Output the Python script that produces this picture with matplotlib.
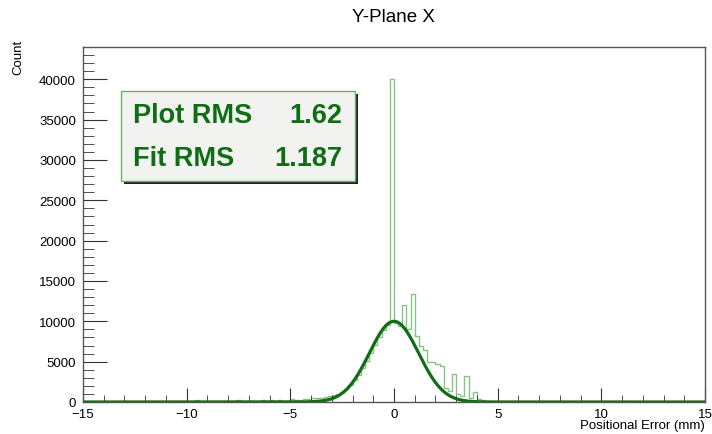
import numpy as np
import matplotlib
matplotlib.use("Agg")
import matplotlib.pyplot as plt
from matplotlib.patches import Rectangle
from matplotlib.ticker import MultipleLocator

plt.rcParams["font.family"] = ["Liberation Sans", "DejaVu Sans"]

# histogram binning: 150 bins of 0.2 mm over [-15, 15]
x_lo, x_hi, n_bins = -15.0, 15.0, 150

# counts for the bins from -5.0 mm to 5.0 mm
core_start = -5.0
core_counts = [
    350, 200, 300, 400, 350, 550, 450, 500, 600, 700,
    850, 1050, 1300, 1650, 2100, 2700, 3400, 4200, 5100, 6100,
    7100, 8000, 8900, 9500, 40000, 9800, 9400, 12000, 9000, 13400,
    8200, 7000, 6400, 5000, 4900, 4700, 4500, 1700, 1400, 3500,
    1000, 800, 3250, 500, 1300, 400, 200, 100, 50, 0,
]

# isolated entries in the far tails (bin lower edge, count)
tail_edges = [-9.6, -7.6, -7.0, -6.4, -6.0, -5.6, -5.2]
tail_counts = [250, 200, 150, 200, 200, 250, 100]

# gaussian fit
fit_amp = 10000.0
fit_mean = 0.0
fit_sigma = 1.187
plot_rms = 1.62

edges = np.linspace(x_lo, x_hi, n_bins + 1)
width = (x_hi - x_lo) / n_bins
counts = np.zeros(n_bins)
i0 = int(round((core_start - x_lo) / width))
counts[i0:i0 + len(core_counts)] = core_counts
for e, c in zip(tail_edges, tail_counts):
    counts[int(round((e - x_lo) / width))] = c

fig = plt.figure(figsize=(7.12, 4.35), dpi=100)
ax = fig.add_axes([83 / 712, 1 - 403 / 435, 622 / 712, 355 / 435])

light = "#86c386"
dark = "#0f6e14"

ax.stairs(counts, edges, color=light, lw=1.0)
xs = np.linspace(x_lo, x_hi, 1500)
ax.plot(xs, fit_amp * np.exp(-0.5 * ((xs - fit_mean) / fit_sigma) ** 2),
        color=dark, lw=2.3, solid_capstyle="butt")

ax.set_xlim(x_lo, x_hi)
ax.set_ylim(0, 1.1 * counts.max())

ax.xaxis.set_major_locator(MultipleLocator(5))
ax.xaxis.set_minor_locator(MultipleLocator(1))
ax.yaxis.set_major_locator(MultipleLocator(5000))
ax.yaxis.set_minor_locator(MultipleLocator(1000))
ax.tick_params(which="both", direction="in", colors="#333333",
               labelcolor="black", labelsize=9.5)
ax.tick_params(axis="x", which="major", length=10, pad=4)
ax.tick_params(axis="x", which="minor", length=5)
ax.tick_params(axis="y", which="major", length=17, pad=5)
ax.tick_params(axis="y", which="minor", length=8)
ax.tick_params(top=False, right=False)
for sp in ax.spines.values():
    sp.set_color("#555555")
    sp.set_linewidth(1.0)

fig.text(393 / 712, 1 - 18 / 435, "Y-Plane X", ha="center", va="center",
         fontsize=13.5)
fig.text(705 / 712, 1 - 426 / 435, "Positional Error (mm)", ha="right",
         va="center", fontsize=9.5)
fig.text(18 / 712, 1 - 40 / 435, "Count", rotation=90, ha="center",
         va="top", fontsize=9.5)

# statistics box with drop shadow
bx0, by0, bw, bh = 121, 92, 234, 90
fig.patches.append(Rectangle(((bx0 + 3) / 712, 1 - (by0 + bh + 3) / 435),
                             bw / 712, bh / 435, transform=fig.transFigure,
                             facecolor="#222222", edgecolor="none", zorder=5))
fig.patches.append(Rectangle((bx0 / 712, 1 - (by0 + bh) / 435), bw / 712,
                             bh / 435, transform=fig.transFigure,
                             facecolor="#f2f2f0", edgecolor="#6fae6f",
                             lw=1.0, zorder=6))
rows = [("Plot RMS", f"{plot_rms:.2f}"), ("Fit RMS", f"{fit_sigma:.3f}")]
for k, (name, val) in enumerate(rows):
    yb = 1 - (123 + 43 * k) / 435
    fig.text(133 / 712, yb, name, ha="left", va="baseline", fontsize=19.5,
             fontweight="bold", color=dark, zorder=7)
    fig.text(342 / 712, yb, val, ha="right", va="baseline", fontsize=19.5,
             fontweight="bold", color=dark, zorder=7)

fig.savefig("out.png", dpi=100)
